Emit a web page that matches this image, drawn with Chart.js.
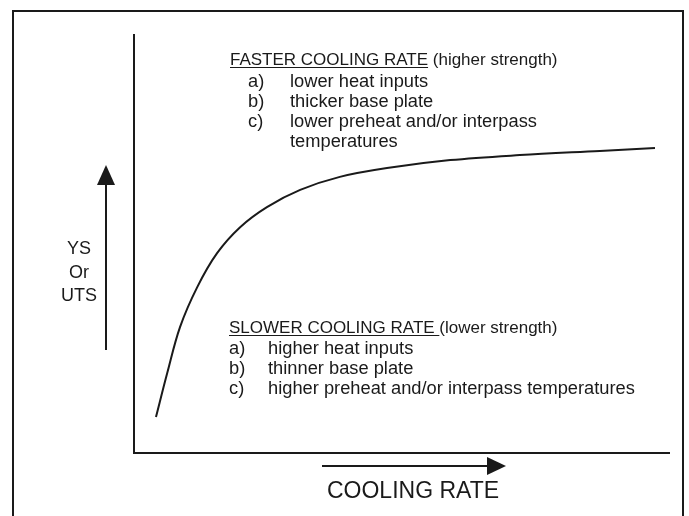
<!DOCTYPE html>
<html>
<head>
<meta charset="utf-8">
<script src="https://cdn.jsdelivr.net/npm/chart.js@4"></script>
<style>
  html, body { margin: 0; padding: 0; background: #fff; }
  #wrap { width: 689px; height: 516px; }
</style>
</head>
<body>
<div id="wrap"><canvas id="myChart" width="689" height="516"></canvas></div>
<script>
// curve (cooling rate -> strength, arbitrary units 0-100)
const coolingRate = [4.1, 6.2, 8.6, 11.8, 15.5, 19.8, 24.8, 31.0, 38.4, 47.2, 59.0, 72.0, 86.9, 97.2];
const strength    = [8.6, 19.1, 30.1, 39.6, 47.7, 53.9, 58.7, 62.8, 65.9, 68.0, 69.9, 71.1, 72.1, 72.8];

const yLabel = ['YS', 'Or', 'UTS'];
const xLabel = 'COOLING RATE';
const fastHead = ['FASTER COOLING RATE', ' (higher strength)'];
const fastItems = [['a)', 'lower heat inputs'], ['b)', 'thicker base plate'],
                   ['c)', 'lower preheat and/or interpass'], ['', 'temperatures']];
const slowHead = ['SLOWER COOLING RATE ', '(lower strength)'];
const slowItems = [['a)', 'higher heat inputs'], ['b)', 'thinner base plate'],
                   ['c)', 'higher preheat and/or interpass temperatures']];

const FONT = '"Liberation Sans", Arial, sans-serif';
const INK = '#1a1a1a';

// frame, axes, arrows and notes
const sketch = {
    id: 'sketch',
    beforeDraw(chart) {
        const c = chart.ctx;
        const a = chart.chartArea;
        c.save();
        c.fillStyle = '#fff';
        c.fillRect(0, 0, chart.width, chart.height);
        c.strokeStyle = INK;
        c.lineWidth = 2;
        c.strokeRect(13, 11, 670, 520);
        // axes
        c.beginPath();
        c.moveTo(a.left, a.top);
        c.lineTo(a.left, a.bottom);
        c.lineTo(a.right, a.bottom);
        c.stroke();
        c.restore();
    },
    afterDraw(chart) {
        const c = chart.ctx;
        c.save();
        c.strokeStyle = INK;
        c.fillStyle = INK;
        c.lineWidth = 2;
        // vertical arrow
        c.beginPath();
        c.moveTo(106, 350); c.lineTo(106, 183); c.stroke();
        c.beginPath();
        c.moveTo(106, 165); c.lineTo(97, 185); c.lineTo(115, 185); c.closePath(); c.fill();
        // horizontal arrow
        c.beginPath();
        c.moveTo(322, 466); c.lineTo(489, 466); c.stroke();
        c.beginPath();
        c.moveTo(506, 466); c.lineTo(487, 457); c.lineTo(487, 475); c.closePath(); c.fill();

        c.textBaseline = 'alphabetic';
        // y label
        c.font = '18px ' + FONT;
        c.textAlign = 'center';
        yLabel.forEach((t, i) => c.fillText(t, 79, 254 + i * 23.5));
        // x label
        c.font = '23px ' + FONT;
        c.fillText(xLabel, 413, 498);

        c.textAlign = 'left';
        const head = (parts, x, y) => {
            c.font = '17px ' + FONT;
            c.fillText(parts[0], x, y);
            const w = c.measureText(parts[0]).width;
            c.lineWidth = 1.2;
            c.beginPath(); c.moveTo(x, y + 2.5); c.lineTo(x + w, y + 2.5); c.stroke();
            c.fillText(parts[1], x + w, y);
            c.font = '18.3px ' + FONT;
        };
        head(fastHead, 230, 65);
        fastItems.forEach((it, i) => {
            const y = 87 + i * 20;
            c.fillText(it[0], 248, y);
            c.fillText(it[1], 290, y);
        });
        head(slowHead, 229, 333);
        slowItems.forEach((it, i) => {
            const y = 354 + i * 20;
            c.fillText(it[0], 229, y);
            c.fillText(it[1], 268, y);
        });
        c.restore();
    }
};

const ctx = document.getElementById('myChart').getContext('2d');
new Chart(ctx, {
    type: 'line',
    data: {
        datasets: [{
            data: coolingRate.map((x, i) => ({ x: x, y: strength[i] })),
            borderColor: INK,
            borderWidth: 2,
            pointRadius: 0,
            fill: false,
            tension: 0.35
        }]
    },
    options: {
        responsive: false,
        animation: false,
        layout: { padding: { left: 134, top: 34, right: 19, bottom: 63 } },
        plugins: { legend: { display: false }, tooltip: { enabled: false } },
        scales: {
            x: { type: 'linear', min: 0, max: 100, display: false },
            y: { type: 'linear', min: 0, max: 100, display: false }
        }
    },
    plugins: [sketch]
});
</script>
</body>
</html>
